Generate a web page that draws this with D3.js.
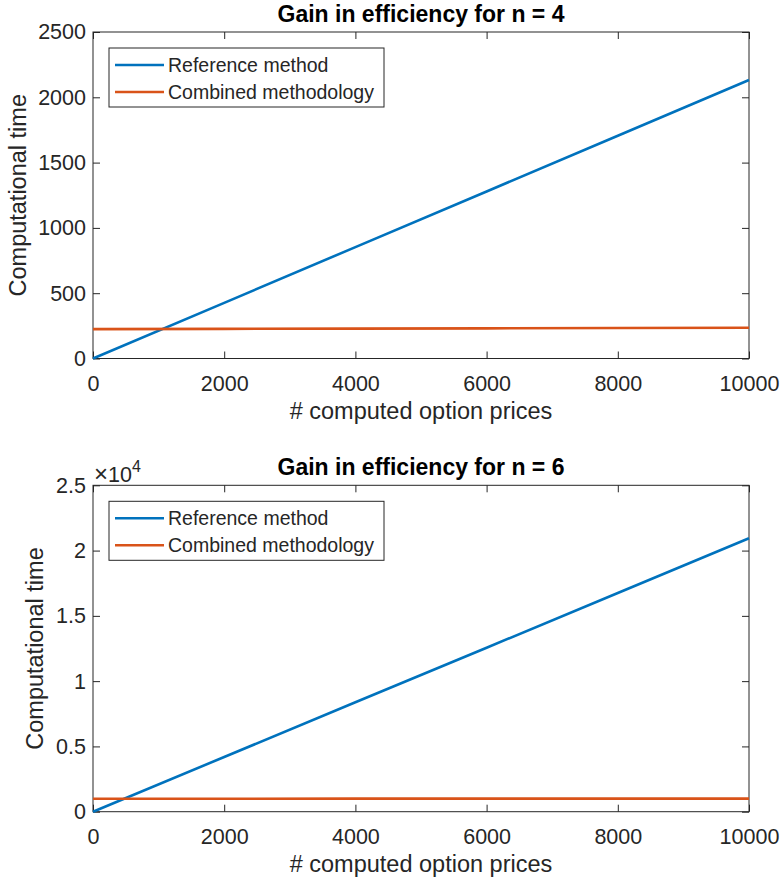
<!DOCTYPE html>
<html lang="en">
<head>
<meta charset="UTF-8">
<title>Gain in efficiency</title>
<script src="https://d3js.org/d3.v7.min.js"></script>
<style>
  body { margin: 0; background: #fff; }
  text { font-family: "Liberation Sans", Arial, Helvetica, sans-serif; fill: #262626; }
</style>
</head>
<body>
<div id="chart"></div>
<script>
// data
var prices = [0, 2000, 4000, 6000, 8000, 10000];
var refN4 = [0, 426, 853, 1279, 1706, 2132];
var combN4 = [225, 227, 229, 231, 234, 236];
var refN6 = [0, 4190, 8380, 12560, 16750, 20940];
var combN6 = [995, 997, 999, 1001, 1003, 1005];
var xTicks = [0, 2000, 4000, 6000, 8000, 10000];
var yTicksN4 = [0, 500, 1000, 1500, 2000, 2500];
var yTicksN6 = [0, 5000, 10000, 15000, 20000, 25000];
var seriesNames = ["Reference method", "Combined methodology"];
var colors = ["#0072BD", "#D95319"];

var W = 780, H = 886;
var svg = d3.select("#chart").append("svg").attr("width", W).attr("height", H);

function panel(cfg) {
  var x = d3.scaleLinear().domain([0, 10000]).range([93, 749]);
  var y = d3.scaleLinear().domain([0, cfg.yMax]).range([cfg.bottom, cfg.top]);
  var g = svg.append("g");
  var axisCol = "#262626";

  // box
  g.append("rect")
    .attr("x", x(0)).attr("y", y(cfg.yMax))
    .attr("width", x(10000) - x(0)).attr("height", y(0) - y(cfg.yMax))
    .attr("fill", "none").attr("stroke", axisCol).attr("stroke-width", 1);

  // x ticks (bottom + top, inward)
  var xa = g.append("g").attr("transform", "translate(0," + y(0) + ")")
    .call(d3.axisBottom(x).tickValues(xTicks).tickSizeInner(-7).tickSizeOuter(0).tickPadding(17).tickFormat(d3.format("d")));
  xa.select(".domain").remove();
  xa.selectAll("line").attr("stroke", axisCol);
  xa.selectAll("text").style("font-size", "21.5px").attr("fill", axisCol);
  var xt = g.append("g").attr("transform", "translate(0," + y(cfg.yMax) + ")")
    .call(d3.axisTop(x).tickValues(xTicks).tickSizeInner(-7).tickSizeOuter(0).tickFormat(""));
  xt.select(".domain").remove();
  xt.selectAll("line").attr("stroke", axisCol);

  // y ticks (left + right)
  var ya = g.append("g").attr("transform", "translate(" + x(0) + ",0)")
    .call(d3.axisLeft(y).tickValues(cfg.yTicks).tickSizeInner(-7).tickSizeOuter(0).tickPadding(7).tickFormat(cfg.fmt));
  ya.select(".domain").remove();
  ya.selectAll("line").attr("stroke", axisCol);
  ya.selectAll("text").style("font-size", "21.5px").attr("fill", axisCol);
  var yr = g.append("g").attr("transform", "translate(" + x(10000) + ",0)")
    .call(d3.axisRight(y).tickValues(cfg.yTicks).tickSizeInner(-7).tickSizeOuter(0).tickFormat(""));
  yr.select(".domain").remove();
  yr.selectAll("line").attr("stroke", axisCol);

  // exponent label
  if (cfg.exponent) {
    var ex = g.append("text").attr("x", 94).attr("y", cfg.top - 3).style("font-size", "21.5px");
    ex.append("tspan").style("font-size", "24px").text("\u00d7");
    ex.append("tspan").text("10");
    ex.append("tspan").attr("dy", -10).style("font-size", "16px").text("4");
  }

  // lines
  var line = d3.line().x(function(d, i) { return x(prices[i]); }).y(function(d) { return y(d); });
  [cfg.ref, cfg.comb].forEach(function(s, i) {
    g.append("path").datum(s).attr("d", line)
      .attr("fill", "none").attr("stroke", colors[i]).attr("stroke-width", 2.6);
  });

  // title
  g.append("text").attr("x", 421).attr("y", cfg.top - 10)
    .attr("text-anchor", "middle").style("font-size", "23px").style("font-weight", "bold")
    .style("fill", "#000")
    .text(cfg.title);

  // axis labels
  g.append("text").attr("x", 421).attr("y", cfg.bottom + 60)
    .attr("text-anchor", "middle").style("font-size", "23.5px")
    .text("# computed option prices");
  g.append("text")
    .attr("transform", "translate(" + cfg.ylabX + "," + ((cfg.top + cfg.bottom) / 2) + ") rotate(-90)")
    .attr("text-anchor", "middle").style("font-size", "23.5px")
    .text("Computational time");

  // legend
  var lg = g.append("g").attr("transform", "translate(109," + (cfg.top + 16) + ")");
  lg.append("rect").attr("x", 0).attr("y", 0).attr("width", 275).attr("height", 59)
    .attr("fill", "#fff").attr("stroke", axisCol).attr("stroke-width", 1);
  seriesNames.forEach(function(name, i) {
    var cy = 17 + i * 27;
    lg.append("line").attr("x1", 6).attr("x2", 55).attr("y1", cy).attr("y2", cy)
      .attr("stroke", colors[i]).attr("stroke-width", 2.6);
    lg.append("text").attr("x", 59).attr("y", cy + 7).style("font-size", "19.5px").text(name);
  });
}

panel({ top: 32, bottom: 358.5, yMax: 2500, yTicks: yTicksN4, fmt: d3.format("d"),
        ref: refN4, comb: combN4, title: "Gain in efficiency for n = 4", ylabX: 26, exponent: false });
panel({ top: 485.3, bottom: 811.7, yMax: 25000, yTicks: yTicksN6, fmt: function(d) { return d / 10000; },
        ref: refN6, comb: combN6, title: "Gain in efficiency for n = 6", ylabX: 43, exponent: true });
</script>
</body>
</html>
